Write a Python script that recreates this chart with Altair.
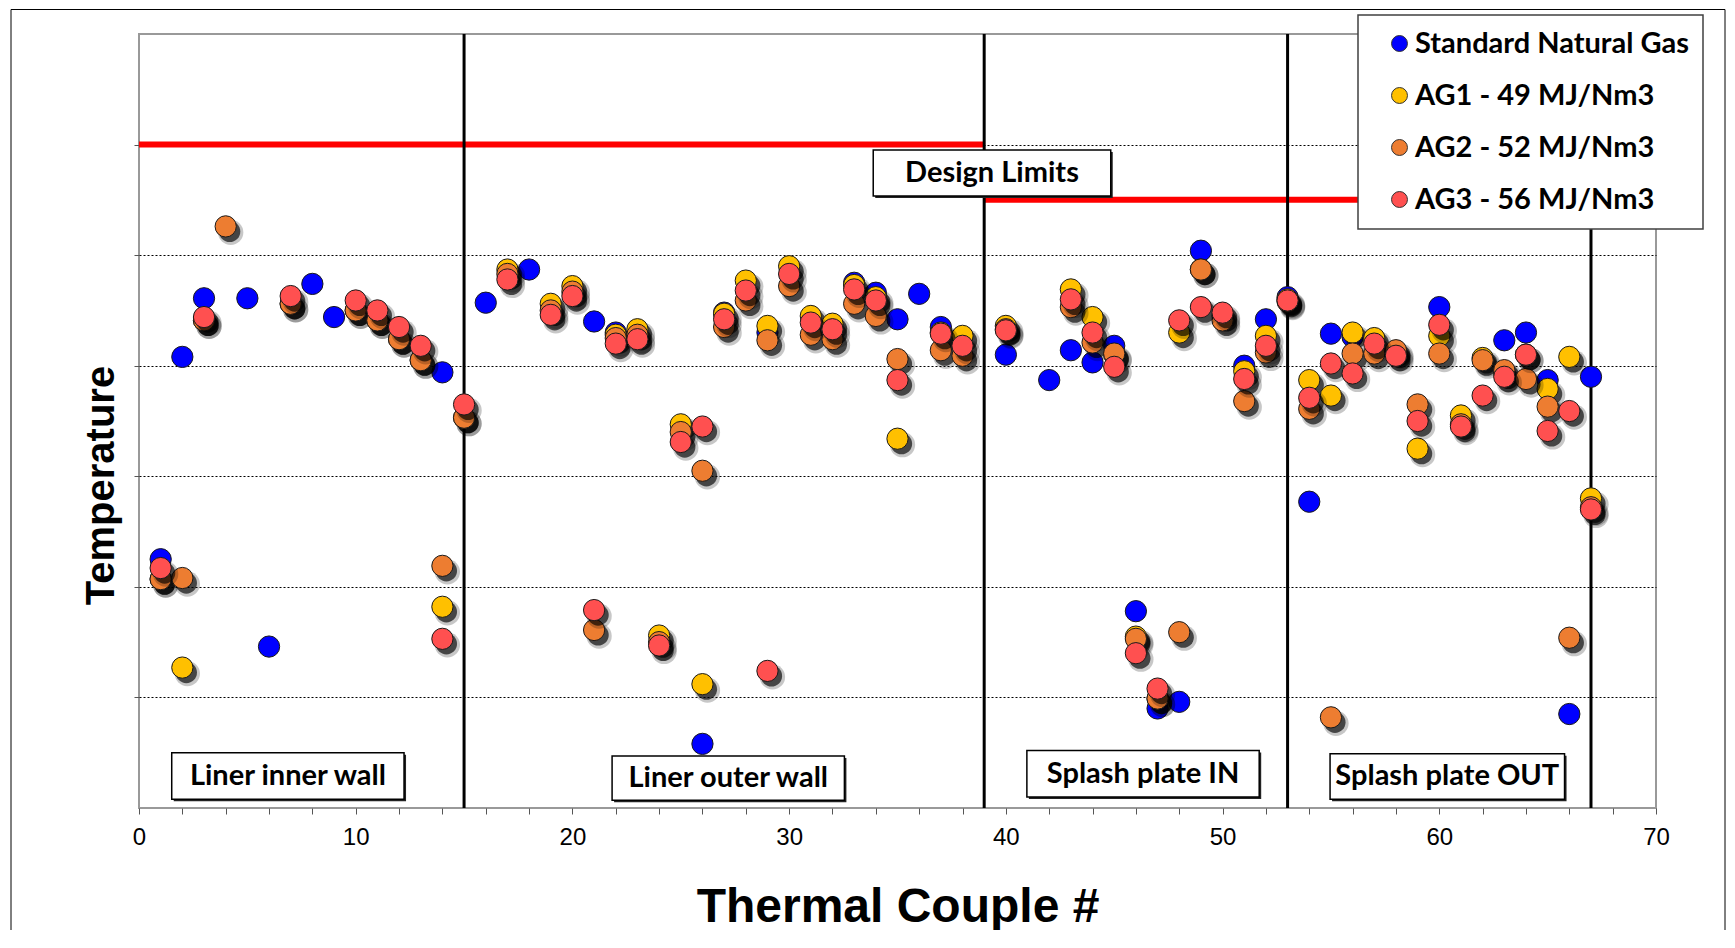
import altair as alt
import pandas as pd

N = None
thermocouple = list(range(1, 68))
series_names = ["Standard Natural Gas", "AG1 - 49 MJ/Nm3", "AG2 - 52 MJ/Nm3", "AG3 - 56 MJ/Nm3"]
series_colors = ["#0000FF", "#FFC000", "#ED7D31", "#FF5050"]

standard = [225, 408, 461, N, 461, 146, N, 474, 444, N,
            N, N, N, 394, N, 457, N, 487, N, N,
            440, 430, N, N, N, 58, 448, N, 430, N,
            N, N, 475, 466, 442, 465, 435, N, N, 410,
            N, 387, 414, 403, 418, 178, 90, 96, 504, N,
            400, 442, 462, 277, 429, 426, N, N, N, 453,
            N, N, 423, 430, 387, 85, 390]
ag1 = [207, 127, 441, N, N, N, 456, N, N, 450,
       441, 424, 405, 182, 353, N, 487, N, 456, 472,
       N, 428, 433, 156, 347, 112, 447, 477, 436, 490,
       445, 438, 473, 462, 334, N, 430, 427, N, 436,
       N, N, 469, 444, 410, 155, 99, 430, 487, 445,
       395, 427, 460, 387, 373, 430, 425, 412, 325, 427,
       355, 407, 393, 410, 379, 408, 280]
ag2 = [207, 208, 441, 526, N, N, 456, N, N, 450,
       441, 424, 405, 219, 353, N, 483, N, 450, 467,
       161, 425, 428, 150, 340, 305, 435, 459, 423, 472,
       428, 424, 456, 445, 406, N, 414, 409, N, 433,
       N, N, 453, 421, 411, 153, 99, 159, 487, 441,
       368, 412, 458, 361, 82, 411, 411, 414, 365, 411,
       347, 405, 396, 388, 363, 154, 272]
ag3 = [217, N, 444, N, N, N, 463, N, N, 459,
       450, 435, 418, 153, 365, N, 478, N, 446, 463,
       179, 420, 424, 147, 331, 345, 442, 468, 124, 483,
       439, 433, 469, 459, 387, N, 429, 418, N, 432,
       N, N, 460, 430, 399, 140, 108, 441, 453, 448,
       388, 418, 459, 371, 402, 393, 420, 409, 350, 437,
       345, 373, 390, 410, 341, 359, 270]

section_bounds = [15, 39, 53, 67]
limit_start = [0, 39]
limit_end = [39, 67]
limit_temp = [600, 550]

region_labels = ["Liner inner wall", "Liner outer wall", "Splash plate IN", "Splash plate OUT", "Design Limits"]
label_x = [6.87, 27.19, 46.33, 60.37, 39.36]
label_y = [29, 27, 31, 28.5, 574]
box_x0 = [1.51, 21.83, 40.97, 54.96, 33.88]
box_x1 = [12.23, 32.55, 51.69, 65.78, 44.84]
box_y0 = [8, 7, 10, 8, 553.5]
box_y1 = [50, 47, 52, 49, 595]

rows = []
for name, vals in zip(series_names, [standard, ag1, ag2, ag3]):
    for t, v in zip(thermocouple, vals):
        if v is not None:
            rows.append({"tc": t, "temp": v, "series": name})
points_df = pd.DataFrame(rows)

limits_df = pd.DataFrame({"start": limit_start, "end": limit_end, "lim": limit_temp})
bounds_df = pd.DataFrame({"bound": section_bounds})
labels_df = pd.DataFrame({"label": region_labels, "lx": label_x, "ly": label_y,
                          "bx0": box_x0, "bx1": box_x1, "by0": box_y0, "by1": box_y1})

x_scale = alt.Scale(domain=[0, 70], nice=False, zero=False)
y_scale = alt.Scale(domain=[0, 700], nice=False, zero=False)

x_axis = alt.Axis(
    title="Thermal Couple #", values=list(range(0, 71, 2)),
    labelExpr="datum.value % 10 == 0 ? datum.label : ''",
    grid=False, domain=False, ticks=True, tickColor="#555555", tickSize=6, tickWidth=1,
    labelFontSize=24, labelFont="Liberation Sans", labelColor="black", labelPadding=11,
    labelFlush=False, labelOverlap=False,
    titleFontSize=48, titleFont="Liberation Sans", titleFontWeight="bold", titleColor="black",
    titleY=113, titleBaseline="alphabetic",
)
y_axis = alt.Axis(
    title="Temperature", values=[100, 200, 300, 400, 500, 600], labels=False,
    grid=True, gridDash=[2, 2], gridColor="black", gridWidth=1, gridOpacity=1,
    domain=False, ticks=True, tickColor="#555555", tickSize=5,
    titleFontSize=40, titleFont="Liberation Sans", titleFontWeight="bold", titleColor="black",
    titleX=-26, titleY=451, titleAngle=270, titleAlign="center", titleBaseline="alphabetic",
)

def X(field):
    return alt.X(field, scale=x_scale, axis=x_axis)

def Y(field):
    return alt.Y(field, scale=y_scale, axis=y_axis)

frame = alt.Chart(alt.Data(values=[{"a": 1}])).mark_rect(
    filled=False, stroke="black", strokeWidth=1
).encode(x=alt.value(-128), x2=alt.value(1586), y=alt.value(-24.5), y2=alt.value(1000))

limit_lines = alt.Chart(limits_df).mark_rule(color="#FF0000", strokeWidth=6).encode(
    x=X("start:Q"), x2="end:Q", y=Y("lim:Q")
)

section_lines = alt.Chart(bounds_df).mark_rule(color="black", strokeWidth=3).encode(
    x=X("bound:Q")
)

box_shadow = alt.Chart(labels_df).mark_rect(fill="#222222", xOffset=2, yOffset=2, x2Offset=2, y2Offset=2).encode(
    x=X("bx0:Q"), x2="bx1:Q", y=Y("by0:Q"), y2="by1:Q"
)
boxes = alt.Chart(labels_df).mark_rect(fill="white", stroke="black", strokeWidth=1.5).encode(
    x=X("bx0:Q"), x2="bx1:Q", y=Y("by0:Q"), y2="by1:Q"
)
box_text = alt.Chart(labels_df).mark_text(
    font="Lato", fontSize=29, fontWeight="bold", color="black", align="center", baseline="middle"
).encode(x=X("lx:Q"), y=Y("ly:Q"), text="label:N")

color_enc = alt.Color(
    "series:N",
    scale=alt.Scale(domain=series_names, range=series_colors),
    legend=alt.Legend(title=None),
)

point_layers = []
for i, name in enumerate(series_names):
    base = alt.Chart(points_df).transform_filter(alt.datum.series == name)
    if i > 0:
        point_layers.append(
            base.mark_circle(color="black", opacity=0.22, size=640, xOffset=5, yOffset=6).encode(
                x=X("tc:Q"), y=Y("temp:Q"))
        )
        point_layers.append(
            base.mark_circle(color="black", opacity=0.65, size=452, xOffset=4, yOffset=5).encode(
                x=X("tc:Q"), y=Y("temp:Q"))
        )
    point_layers.append(
        base.mark_point(filled=True, shape="circle", size=452, stroke="#1a1a1a", strokeWidth=1, opacity=1).encode(
            x=X("tc:Q"), y=Y("temp:Q"), color=color_enc)
    )

chart = alt.layer(
    frame, limit_lines, section_lines, box_shadow, boxes, box_text, *point_layers
).properties(
    width=1517, height=774,
    autosize=alt.AutoSizeParams(type="none"),
    padding={"left": 131, "top": 26, "right": 70, "bottom": 122},
    background="white",
).configure_view(
    stroke="#999999", strokeWidth=2
).configure_legend(
    orient="none", legendX=1219, legendY=-19,
    fillColor="white", strokeColor="#404040", strokeWidth=1.5,
    padding=14, symbolOffset=13, rowPadding=22,
    labelFontSize=29, labelFont="Lato", labelFontWeight="bold", labelColor="black",
    labelLimit=600, labelOffset=1,
    symbolSize=254, symbolType="circle", symbolStrokeColor="#333333", symbolStrokeWidth=1,
)

chart.save("out.html", embed_options={"renderer": "svg", "actions": False})
